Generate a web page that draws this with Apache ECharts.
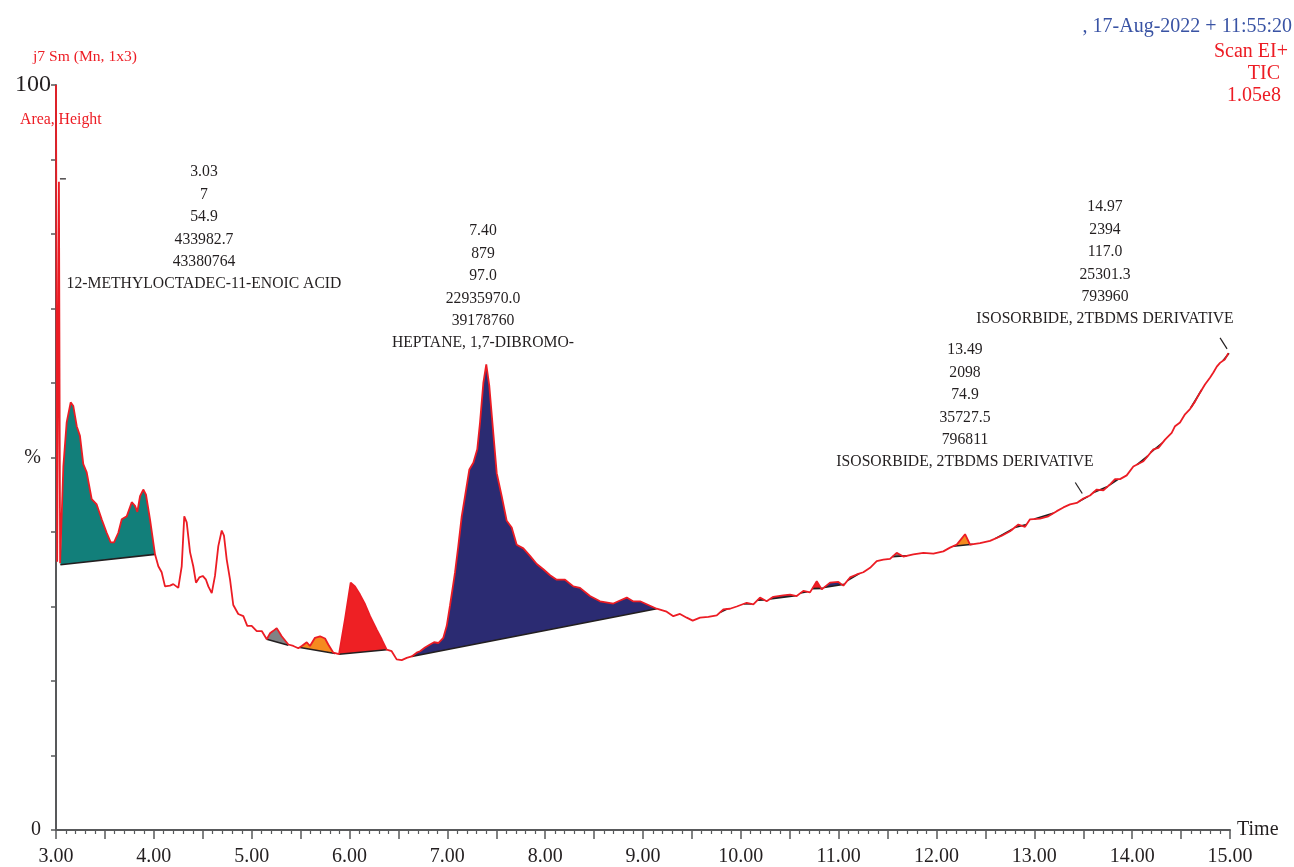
<!DOCTYPE html>
<html>
<head>
<meta charset="utf-8">
<script src="https://cdn.jsdelivr.net/npm/echarts@6/dist/echarts.min.js"></script>
<style>
html,body{margin:0;padding:0;background:#fff;}
#chart{width:1294px;height:867px;}
</style>
</head>
<body>
<div id="chart"></div>
<script>
// ---- DATA ----
const traceTime = [3.000,3.012,3.030,3.042,3.048,3.075,3.109,3.150,3.177,3.212,3.245,3.279,3.314,3.365,3.416,3.467,3.518,3.559,3.593,3.637,3.672,3.723,3.774,3.808,3.831,3.859,3.892,3.920,3.961,4.012,4.046,4.080,4.114,4.165,4.199,4.250,4.285,4.311,4.336,4.370,4.403,4.431,4.465,4.500,4.533,4.557,4.592,4.625,4.659,4.694,4.717,4.745,4.779,4.812,4.863,4.915,4.955,5.000,5.052,5.103,5.154,5.187,5.218,5.256,5.307,5.375,5.426,5.477,5.512,5.563,5.596,5.647,5.699,5.750,5.783,5.835,5.893,5.954,6.012,6.056,6.107,6.159,6.210,6.278,6.329,6.380,6.431,6.482,6.534,6.585,6.636,6.687,6.721,6.772,6.823,6.864,6.908,6.959,6.994,7.027,7.078,7.112,7.147,7.181,7.225,7.266,7.306,7.334,7.368,7.398,7.429,7.464,7.505,7.556,7.607,7.658,7.709,7.777,7.845,7.914,7.981,8.050,8.118,8.203,8.288,8.356,8.458,8.561,8.697,8.765,8.834,8.898,8.970,9.072,9.140,9.242,9.310,9.378,9.447,9.508,9.583,9.668,9.754,9.821,9.889,9.958,10.060,10.128,10.196,10.264,10.332,10.434,10.503,10.571,10.639,10.707,10.776,10.827,10.912,10.997,11.048,11.116,11.185,11.252,11.321,11.389,11.457,11.525,11.593,11.661,11.763,11.866,11.968,12.070,12.138,12.207,12.292,12.343,12.445,12.547,12.667,12.752,12.837,12.905,12.956,13.058,13.143,13.229,13.297,13.365,13.434,13.501,13.569,13.638,13.706,13.774,13.825,13.876,13.944,14.012,14.115,14.217,14.268,14.336,14.404,14.438,14.489,14.540,14.591,14.642,14.693,14.744,14.795,14.830,14.865,14.898,14.949,14.983];
const traceValue = [100.0,36.0,87.0,35.8,35.9,48.8,54.7,57.4,56.9,54.2,52.9,49.1,48.0,44.4,43.7,41.7,39.9,38.6,38.6,39.9,41.7,42.1,44.0,43.5,42.7,44.8,45.7,45.0,41.7,37.0,35.4,34.6,32.7,32.8,33.0,32.5,35.4,42.1,41.3,37.3,35.4,33.2,33.9,34.1,33.6,32.7,31.8,34.1,38.1,40.2,39.5,36.3,33.6,30.2,29.0,28.7,27.4,27.4,26.7,26.7,25.6,26.4,26.7,27.1,26.0,24.9,24.7,24.4,24.7,25.2,24.7,25.8,26.0,25.7,24.9,23.8,23.6,28.3,33.2,32.7,31.6,30.3,28.7,26.9,25.6,24.2,24.0,22.9,22.8,23.1,23.3,23.8,24.0,24.5,24.9,25.2,25.1,25.8,27.4,30.1,34.5,38.1,42.1,44.8,48.4,49.3,51.1,54.7,60.0,62.5,59.6,54.2,47.9,44.8,41.5,40.6,38.3,37.8,36.8,35.7,35.0,34.2,33.6,33.6,32.7,32.5,31.4,30.7,30.4,30.8,31.2,30.7,30.7,30.1,29.7,29.3,28.7,29.0,28.5,28.1,28.5,28.6,28.8,29.6,29.7,30.0,30.5,30.3,31.2,30.7,31.3,31.5,31.6,31.4,32.1,31.9,33.4,32.3,33.2,33.3,32.8,33.9,34.3,34.6,35.2,36.1,36.3,36.4,37.2,36.7,37.0,37.2,37.1,37.4,37.9,38.3,39.7,38.3,38.5,38.8,39.5,40.1,41.0,40.7,41.7,41.8,42.1,42.8,43.3,43.7,43.9,44.5,44.9,45.7,45.6,46.4,47.1,47.1,47.6,48.8,49.5,51.1,51.3,52.4,53.3,54.2,54.7,55.8,56.5,57.5,58.7,59.8,60.7,61.4,62.2,62.7,63.2,64.0];

// integrated peak regions
const regionColor = ['#127f7a','#808285','#f58a1f','#ee2024','#2b2b72',
  '#ee2024','#f58a1f','#ee2024','#2b2b72','#f58a1f','#ee2024','#2b2b72','#127f7a','#808285','#f58a1f','#808285','#2b2b72','#808285','#2b2b72','#808285','#2b2b72','#808285','#808285','#f58a1f','#f58a1f'];
const regionStart = [3.045,5.154,5.494,5.893,6.636,
  9.79,10.03,10.17,10.30,10.61,10.73,10.85,11.09,11.55,12.17,12.60,12.80,13.00,13.45,13.60,13.76,14.05,14.19,14.60,14.93];
const regionEnd   = [4.012,5.375,5.852,6.380,9.140,
  9.86,10.11,10.24,10.56,10.68,10.84,11.06,11.21,11.70,12.37,12.78,12.92,13.20,13.55,13.75,13.86,14.16,14.31,14.71,14.99];
const regionBaseStart = [35.6,25.6,24.5,23.6,23.3];
const regionBaseEnd   = [37.0,24.8,23.7,24.2,29.7];

// labelled peaks
const peakTime = [3.03, 13.49, 14.97];
const peakHeight = [87.0, 44.5, 63.9];
const peakMarkType = ['dash','slash','slash'];
const annotA = ['3.03','7','54.9','433982.7','43380764','12-METHYLOCTADEC-11-ENOIC ACID'];
const annotB = ['7.40','879','97.0','22935970.0','39178760','HEPTANE, 1,7-DIBROMO-'];
const annotC = ['13.49','2098','74.9','35727.5','796811','ISOSORBIDE, 2TBDMS DERIVATIVE'];
const annotD = ['14.97','2394','117.0','25301.3','793960','ISOSORBIDE, 2TBDMS DERIVATIVE'];

const xMin = 3, xMax = 15, xInterval = 0.5;
const yMin = 0, yMax = 100, yInterval = 10;
const yLabels = {0:'0', 50:'%', 100:'100'};

// ---- CHART ----
const SERIF = '"Liberation Serif","DejaVu Serif",serif';
const tracePairs = traceTime.map((t,i)=>[t, traceValue[i]]);
function interp(t){
  for (let i=1;i<traceTime.length;i++){
    if (traceTime[i] >= t){
      const t0=traceTime[i-1], t1=traceTime[i];
      const f=(t-t0)/(t1-t0);
      return traceValue[i-1]+f*(traceValue[i]-traceValue[i-1]);
    }
  }
  return traceValue[traceValue.length-1];
}

const chart = echarts.init(document.getElementById('chart'), null, {renderer:'canvas'});

function textBlock(lines, x, yTop){
  return {type:'text', silent:true, style:{
    text: lines.join('\n'), x:x, y:yTop, fill:'#231f20',
    font:'15.7px '+SERIF, lineHeight:22.4,
    align:'center', textAlign:'center', verticalAlign:'top', textVerticalAlign:'top'
  }};
}
function plainText(txt, x, y, color, size, align){
  return {type:'text', silent:true, style:{
    text: txt, x:x, y:y, fill:color, font:size+'px '+SERIF,
    align:align, textAlign:align, verticalAlign:'middle', textVerticalAlign:'middle'
  }};
}

const option = {
  animation:false,
  backgroundColor:'#fff',
  grid:{left:56, right:64, top:85, bottom:36, containLabel:false},
  xAxis:{
    type:'value', min:xMin, max:xMax, interval:xInterval,
    name:'Time', nameLocation:'end', nameGap:7,
    nameTextStyle:{fontFamily:SERIF, fontSize:20, color:'#231f20', verticalAlign:'middle'},
    axisLine:{show:true, onZero:false, lineStyle:{color:'#58595b', width:2}},
    axisTick:{show:true, length:9, lineStyle:{color:'#58595b', width:1.5}},
    minorTick:{show:true, splitNumber:5, length:4, lineStyle:{color:'#58595b', width:1.2}},
    splitLine:{show:false},
    axisLabel:{fontFamily:SERIF, fontSize:20, color:'#231f20', margin:17,
      formatter:v=> Math.abs(v-Math.round(v))<1e-9 ? v.toFixed(2) : ''}
  },
  yAxis:{
    type:'value', min:yMin, max:yMax, interval:yInterval,
    axisLine:{show:true, lineStyle:{color:'#58595b', width:2}},
    axisTick:{show:true, length:5, lineStyle:{color:'#58595b', width:1.5}},
    splitLine:{show:false},
    axisLabel:{fontFamily:SERIF, color:'#231f20', margin:5,
      formatter:v=> {
        const r = Math.round(v);
        if (Math.abs(v-r) > 1e-9 || yLabels[r] === undefined) return '';
        return r === 100 ? '{big|' + yLabels[r] + '}' : '{sm|' + yLabels[r] + '}';
      },
      rich:{
        big:{fontFamily:SERIF, fontSize:24, color:'#231f20'},
        sm:{fontFamily:SERIF, fontSize:20, color:'#231f20', padding:[0,10,0,0]}
      }
    }
  },
  graphic:[
    plainText('j7 Sm (Mn, 1x3)', 33, 57, '#ed1c24', 15.6, 'left'),
    plainText('Area, Height', 20, 120, '#ed1c24', 15.8, 'left'),
    plainText(', 17-Aug-2022 + 11:55:20', 1292, 27, '#3953a4', 20, 'right'),
    plainText('Scan EI+', 1288, 52, '#ed1c24', 20, 'right'),
    plainText('TIC', 1280, 74, '#ed1c24', 20, 'right'),
    plainText('1.05e8', 1281, 96, '#ed1c24', 20, 'right'),
    textBlock(annotA, 204, 161),
    textBlock(annotB, 483, 220),
    textBlock(annotC, 965, 339),
    textBlock(annotD, 1105, 196)
  ],
  series:[
    {
      type:'custom', name:'regions', z:1, silent:true,
      data: regionStart.map((t,i)=>[t, i]),
      encode:{x:0},
      renderItem:(params, api)=>{
        const i = params.dataIndex;
        const t0 = regionStart[i], t1 = regionEnd[i];
        const b0 = (regionBaseStart[i] !== undefined) ? regionBaseStart[i] : interp(t0);
        const b1 = (regionBaseEnd[i] !== undefined) ? regionBaseEnd[i] : interp(t1);
        const pts = [api.coord([t0, interp(t0)])];
        for (let k=0;k<traceTime.length;k++){
          if (traceTime[k] > t0 && traceTime[k] < t1) pts.push(api.coord([traceTime[k], traceValue[k]]));
        }
        pts.push(api.coord([t1, interp(t1)]));
        const pb1 = api.coord([t1, b1]), pb0 = api.coord([t0, b0]);
        pts.push(pb1); pts.push(pb0);
        return {type:'group', children:[
          {type:'polygon', shape:{points:pts}, style:{fill:regionColor[i], stroke:null}},
          {type:'line', shape:{x1:pb0[0], y1:pb0[1], x2:pb1[0], y2:pb1[1]},
           style:{stroke:'#231f20', lineWidth:1.6}}
        ]};
      }
    },
    {
      type:'line', name:'TIC', z:3, data:tracePairs, showSymbol:false, symbol:'none',
      lineStyle:{color:'#ec1c24', width:1.8}, silent:true
    },
    {
      type:'custom', name:'peakMarks', z:4, silent:true,
      data: peakTime.map((t,i)=>[t, peakHeight[i]]),
      encode:{x:0, y:1},
      renderItem:(params, api)=>{
        const i = params.dataIndex;
        const p = api.coord([peakTime[i], peakHeight[i]]);
        if (peakMarkType[i] === 'dash'){
          return {type:'line', shape:{x1:p[0]+1, y1:p[1]-3, x2:p[0]+7, y2:p[1]-3}, style:{stroke:'#231f20', lineWidth:1.2}};
        }
        return {type:'line', shape:{x1:p[0]-7, y1:p[1]-16, x2:p[0], y2:p[1]-5}, style:{stroke:'#231f20', lineWidth:1.2}};
      }
    }
  ]
};
chart.setOption(option);
</script>
</body>
</html>
